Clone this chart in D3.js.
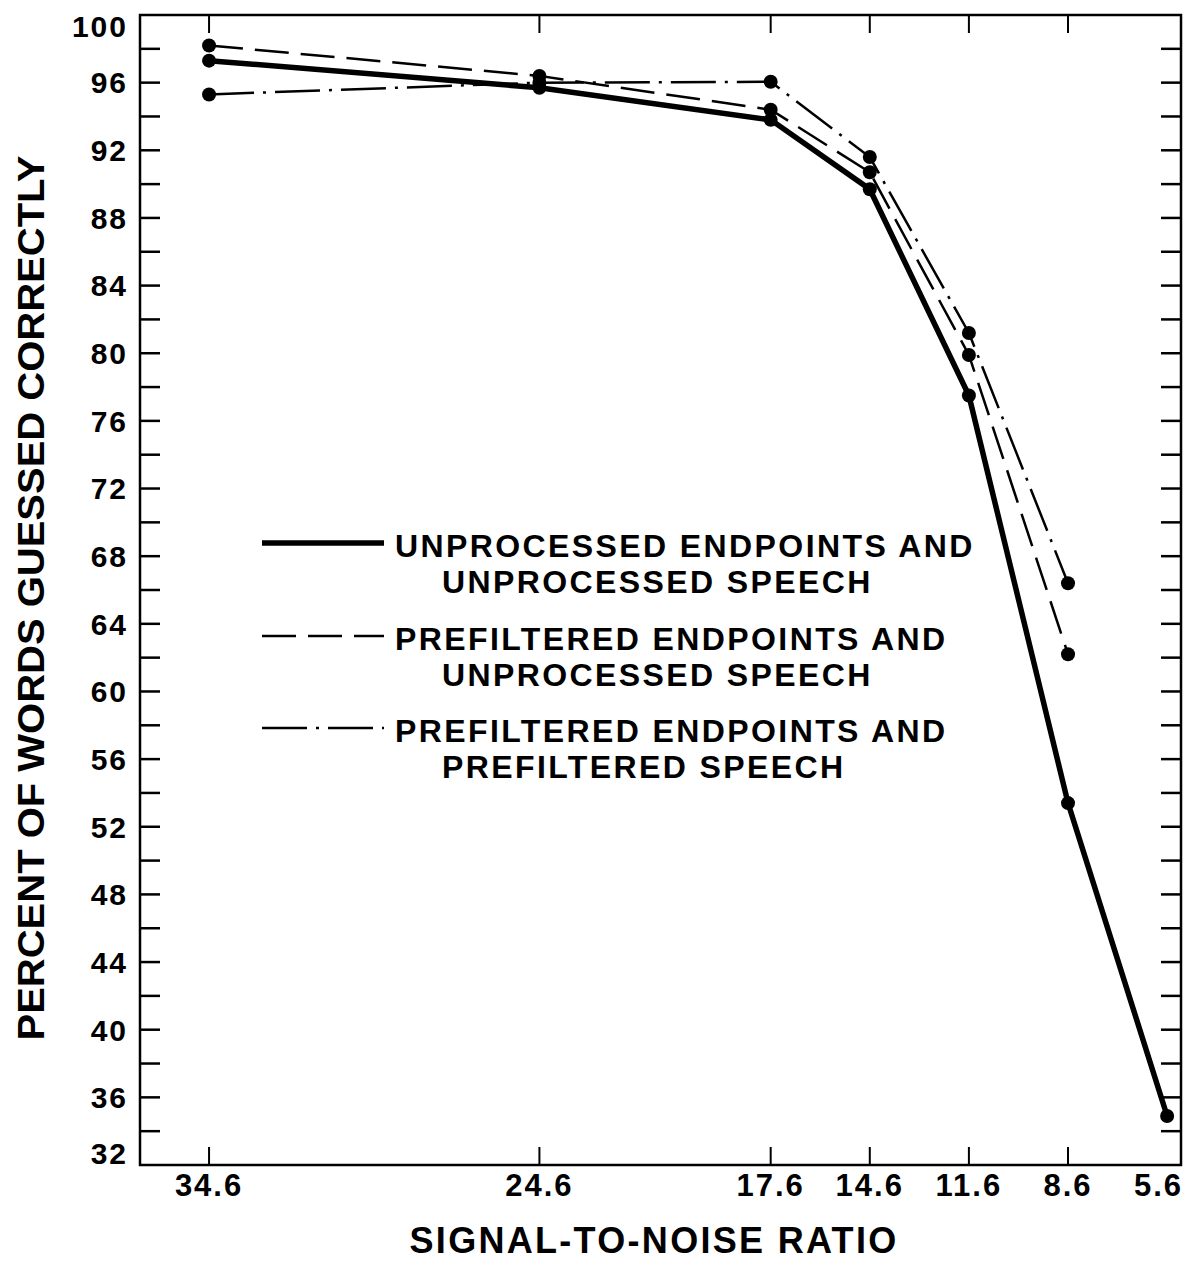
<!DOCTYPE html>
<html>
<head>
<meta charset="utf-8">
<script src="https://cdn.jsdelivr.net/npm/d3@7"></script>
<style>
  body { margin: 0; background: #fff; }
  text { font-family: "Liberation Sans", Arial, sans-serif; font-weight: bold; fill: #000; }
</style>
</head>
<body>
<div id="chart"></div>
<script>
// Date
var snrValues = [34.6, 24.6, 17.6, 14.6, 11.6, 8.6, 5.6];
var unprocessedBoth = [97.3, 95.7, 93.8, 89.7, 77.5, 53.4, 34.9];
var prefEndUnprocSpeech = [98.2, 96.4, 94.4, 90.7, 79.9, 62.2];
var prefEndPrefSpeech = [95.3, 96.0, 96.05, 91.6, 81.2, 66.4];
var yTickLabels = [32, 36, 40, 44, 48, 52, 56, 60, 64, 68, 72, 76, 80, 84, 88, 92, 96, 100];
var yMinorTicks = d3.range(32, 101, 2);
var legendLabels = [
    ["UNPROCESSED ENDPOINTS AND", "UNPROCESSED SPEECH"],
    ["PREFILTERED ENDPOINTS AND", "UNPROCESSED SPEECH"],
    ["PREFILTERED ENDPOINTS AND", "PREFILTERED SPEECH"]
];

var svgWidth = 1188;
var svgHeight = 1262;
var margin = { top: 15, right: 7, bottom: 97, left: 140 };
var width = svgWidth - margin.left - margin.right;
var height = svgHeight - margin.top - margin.bottom;

var svg = d3.select("#chart")
    .append("svg")
    .attr("width", svgWidth)
    .attr("height", svgHeight);

var g = svg.append("g")
    .attr("transform", "translate(" + margin.left + "," + margin.top + ")");

// Scale
var x = d3.scaleLinear().domain([36.69, 5.18]).range([0, width]);
var y = d3.scaleLinear().domain([32, 100]).range([height, 0]);

// Rama graficului
g.append("rect")
    .attr("width", width)
    .attr("height", height)
    .attr("fill", "none")
    .attr("stroke", "#000")
    .attr("stroke-width", 2.5);

// Gradatii Y (stanga si dreapta, spre interior)
var tickLen = 20;
g.append("g").selectAll("line.yl")
    .data(yMinorTicks.slice(1, -1))
    .enter().append("line")
    .attr("x1", 0).attr("x2", tickLen)
    .attr("y1", function (d) { return y(d); })
    .attr("y2", function (d) { return y(d); })
    .attr("stroke", "#000").attr("stroke-width", 2.5);

g.append("g").selectAll("line.yr")
    .data(yMinorTicks.slice(1, -1))
    .enter().append("line")
    .attr("x1", width - tickLen).attr("x2", width)
    .attr("y1", function (d) { return y(d); })
    .attr("y2", function (d) { return y(d); })
    .attr("stroke", "#000").attr("stroke-width", 2.5);

// Etichete Y
g.append("g").selectAll("text")
    .data(yTickLabels)
    .enter().append("text")
    .attr("x", -12)
    .attr("y", function (d) { return y(d); })
    .attr("dy", function (d) { return d === 100 ? "0.72em" : (d === 32 ? "-0.05em" : "0.36em"); })
    .attr("text-anchor", "end")
    .attr("font-size", 30)
    .attr("letter-spacing", 2)
    .text(function (d) { return d; });

// Gradatii X (sus si jos)
var xTickVals = snrValues.slice(0, -1);
g.append("g").selectAll("line.xb")
    .data(xTickVals)
    .enter().append("line")
    .attr("x1", function (d) { return x(d); })
    .attr("x2", function (d) { return x(d); })
    .attr("y1", height).attr("y2", height - 18)
    .attr("stroke", "#000").attr("stroke-width", 2);

g.append("g").selectAll("line.xt")
    .data(xTickVals)
    .enter().append("line")
    .attr("x1", function (d) { return x(d); })
    .attr("x2", function (d) { return x(d); })
    .attr("y1", 0).attr("y2", 18)
    .attr("stroke", "#000").attr("stroke-width", 2);

// Etichete X
var lastSnr = snrValues[snrValues.length - 1];
g.append("g").selectAll("text")
    .data(snrValues)
    .enter().append("text")
    .attr("x", function (d) { return d === lastSnr ? width + 2 : x(d); })
    .attr("y", height + 31)
    .attr("text-anchor", function (d) { return d === lastSnr ? "end" : "middle"; })
    .attr("font-size", 31)
    .attr("letter-spacing", 2)
    .text(function (d) { return d.toFixed(1); });

// Titluri axe
svg.append("text")
    .attr("x", 654)
    .attr("y", 1253)
    .attr("text-anchor", "middle")
    .attr("font-size", 36)
    .attr("letter-spacing", 2.3)
    .text("SIGNAL-TO-NOISE RATIO");

svg.append("text")
    .attr("transform", "translate(44,598) rotate(-90)")
    .attr("text-anchor", "middle")
    .attr("font-size", 37)
    .attr("textLength", 885)
    .attr("lengthAdjust", "spacingAndGlyphs")
    .text("PERCENT OF WORDS GUESSED CORRECTLY");

// Seriile
var seriesList = [
    { values: unprocessedBoth, width: 5.5, dash: null },
    { values: prefEndUnprocSpeech, width: 2.5, dash: "34,12" },
    { values: prefEndPrefSpeech, width: 2.5, dash: "45,9,3,9" }
];

var line = d3.line()
    .x(function (d) { return x(d.snr); })
    .y(function (d) { return y(d.value); });

seriesList.forEach(function (s) {
    var pts = s.values.map(function (v, i) {
        return { snr: snrValues[i], value: v };
    });
    g.append("path")
        .datum(pts)
        .attr("fill", "none")
        .attr("stroke", "#000")
        .attr("stroke-width", s.width)
        .attr("stroke-dasharray", s.dash)
        .attr("d", line);
    g.append("g").selectAll("circle")
        .data(pts)
        .enter().append("circle")
        .attr("cx", function (d) { return x(d.snr); })
        .attr("cy", function (d) { return y(d.value); })
        .attr("r", 7)
        .attr("fill", "#000");
});

// Legenda
var legendY = [543, 636, 728];
legendLabels.forEach(function (lab, i) {
    var s = seriesList[i];
    svg.append("line")
        .attr("x1", 262).attr("x2", 384)
        .attr("y1", legendY[i]).attr("y2", legendY[i])
        .attr("stroke", "#000")
        .attr("stroke-width", s.width)
        .attr("stroke-dasharray", s.dash);
    svg.append("text")
        .attr("x", 395)
        .attr("y", legendY[i] + 14)
        .attr("font-size", 32)
        .attr("letter-spacing", 2.4)
        .text(lab[0]);
    svg.append("text")
        .attr("x", 442)
        .attr("y", legendY[i] + 50)
        .attr("font-size", 32)
        .attr("letter-spacing", 2.4)
        .text(lab[1]);
});
</script>
</body>
</html>
